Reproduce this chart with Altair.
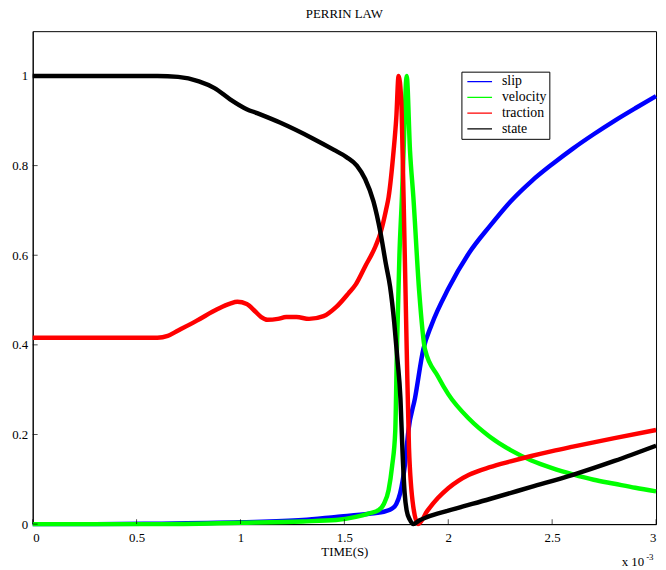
import altair as alt
import pandas as pd

# ---------------- data (time in units of 1e-3 s) ----------------
series_names = ["slip", "velocity", "traction", "state"]
series_colors = ["#0000ff", "#00ff00", "#ff0000", "#000000"]

slip_t = [0, 0.3, 0.6, 1.0, 1.3, 1.46, 1.62, 1.70, 1.728, 1.75, 1.768, 1.792, 1.808, 1.84, 1.88,
          1.92, 2.0, 2.1, 2.2, 2.3, 2.4, 2.5, 2.6, 2.7, 2.8, 2.9, 3.0]
slip_v = [0, 0, 0.001, 0.004, 0.009, 0.016, 0.023, 0.029, 0.034, 0.045, 0.068, 0.134, 0.208, 0.281, 0.39,
          0.445, 0.525, 0.605, 0.665, 0.72, 0.765, 0.803, 0.838, 0.87, 0.90, 0.928, 0.955]

vel_t = [0, 0.3, 0.6, 1.0, 1.3, 1.46, 1.555, 1.62, 1.665, 1.69, 1.713, 1.73, 1.745, 1.753, 1.765, 1.777,
         1.785, 1.80, 1.816, 1.832, 1.86, 1.888, 1.95, 2.0, 2.1, 2.2, 2.3, 2.4, 2.5, 2.6, 2.7, 2.8,
         2.9, 3.0]
vel_v = [0, 0, 0, 0.003, 0.006, 0.009, 0.016, 0.024, 0.031, 0.045, 0.076, 0.13, 0.208, 0.39, 0.6, 0.73,
         0.833, 1.0, 0.833, 0.73, 0.52, 0.39, 0.33, 0.29, 0.235, 0.195, 0.165, 0.142, 0.125, 0.111,
         0.099, 0.09, 0.081, 0.073]

trac_t = [0, 0.3, 0.6, 0.65, 0.7, 0.79, 0.89, 0.95, 0.985, 1.03, 1.07, 1.10, 1.13, 1.18, 1.22, 1.27,
          1.33, 1.40, 1.46, 1.52, 1.555, 1.60, 1.65, 1.674, 1.70, 1.713, 1.737, 1.75, 1.761, 1.774,
          1.78, 1.785, 1.80, 1.811, 1.832, 1.855, 1.9, 1.95, 2.0, 2.05, 2.1, 2.2, 2.3, 2.4, 2.5,
          2.6, 2.8, 3.0]
trac_v = [0.416, 0.416, 0.416, 0.42, 0.432, 0.454, 0.48, 0.492, 0.496, 0.491, 0.475, 0.462, 0.456,
          0.458, 0.462, 0.462, 0.458, 0.464, 0.484, 0.515, 0.535, 0.575, 0.62, 0.65, 0.70, 0.73,
          0.833, 0.907, 1.0, 0.944, 0.833, 0.73, 0.392, 0.171, 0.038, 0.0, 0.03, 0.058, 0.08, 0.097,
          0.11, 0.127, 0.14, 0.152, 0.163, 0.173, 0.192, 0.21]

state_t = [0, 0.3, 0.6, 0.7, 0.8, 0.875, 0.95, 1.03, 1.08, 1.19, 1.35, 1.45, 1.51, 1.56, 1.60, 1.64,
           1.674, 1.70, 1.72, 1.74, 1.755, 1.77, 1.78, 1.79, 1.80, 1.815, 1.832, 1.86, 1.9, 2.0, 2.2,
           2.4, 2.6, 2.8, 3.0]
state_v = [1.0, 1.0, 1.0, 0.998, 0.988, 0.973, 0.948, 0.926, 0.917, 0.896, 0.86, 0.835, 0.819, 0.80,
           0.77, 0.72, 0.65, 0.58, 0.53, 0.45, 0.37, 0.28, 0.16, 0.07, 0.03, 0.01, 0.0, 0.008, 0.016,
           0.03, 0.056, 0.083, 0.11, 0.141, 0.175]

x_ticks = [0, 0.5, 1, 1.5, 2, 2.5, 3]
y_ticks = [0, 0.2, 0.4, 0.6, 0.8, 1]
chart_title = "PERRIN LAW"
x_title = "TIME(S)"
multiplier_base = "x 10"
multiplier_exp = "-3"

FONT = "Liberation Serif"

lines_df = pd.concat([
    pd.DataFrame({"t": slip_t, "value": slip_v, "series": "slip"}),
    pd.DataFrame({"t": vel_t, "value": vel_v, "series": "velocity"}),
    pd.DataFrame({"t": trac_t, "value": trac_v, "series": "traction"}),
    pd.DataFrame({"t": state_t, "value": state_v, "series": "state"}),
], ignore_index=True)

xscale = alt.Scale(domain=[0, 3], nice=False, zero=False)
yscale = alt.Scale(domain=[0, 1.1], nice=False, zero=False)
cscale = alt.Scale(domain=series_names, range=series_colors)

legend = alt.Legend(
    title=None, orient="none", legendX=434, legendY=41,
    symbolType="stroke", symbolSize=625, symbolStrokeWidth=1.2, symbolOffset=3,
    clipHeight=16, rowPadding=0, padding=2, labelOffset=9,
    labelFont=FONT, labelFontSize=14, labelColor="black",
    strokeColor="black", fillColor="white", cornerRadius=0,
)

main_x = alt.Axis(values=x_ticks, format="~g", ticks=False, tickSize=0, labelPadding=8,
                  title=x_title, titlePadding=1, grid=False)
main_y = alt.Axis(values=y_ticks, format="~g", ticks=False, tickSize=0, labelPadding=5,
                  title=None, grid=False)

lines = alt.Chart(lines_df).mark_line(strokeWidth=4.5, interpolate="monotone").encode(
    x=alt.X("t:Q", scale=xscale, axis=main_x),
    y=alt.Y("value:Q", scale=yscale, axis=main_y),
    color=alt.Color("series:N", scale=cscale, legend=legend, sort=series_names),
)

# inward tick marks at the axis tick values
xt_df = pd.DataFrame({"t": x_ticks})
yt_df = pd.DataFrame({"value": y_ticks})
x_tick_marks = alt.Chart(xt_df).mark_tick(
    orient="vertical", color="black", thickness=1, size=5, yOffset=-2.5
).encode(x=alt.X("t:Q", scale=xscale, axis=main_x), y=alt.YDatum(0.0, axis=main_y))
y_tick_marks = alt.Chart(yt_df).mark_tick(
    orient="horizontal", color="black", thickness=1, size=5, xOffset=2.5
).encode(y=alt.Y("value:Q", scale=yscale, axis=main_y), x=alt.XDatum(0.0, axis=main_x))

ann = pd.DataFrame({"base": [multiplier_base], "exp": [multiplier_exp]})
ann_base = alt.Chart(ann).mark_text(
    align="right", baseline="middle", font=FONT, fontSize=13, color="black", dx=-12, dy=38
).encode(x=alt.XDatum(3.0, axis=main_x), y=alt.YDatum(0.0, axis=main_y), text="base:N")
ann_exp = alt.Chart(ann).mark_text(
    align="left", baseline="middle", font=FONT, fontSize=9, color="black", dx=-10, dy=33
).encode(x=alt.XDatum(3.0, axis=main_x), y=alt.YDatum(0.0, axis=main_y), text="exp:N")

chart = alt.layer(
    lines, x_tick_marks, y_tick_marks, ann_base, ann_exp,
).properties(
    width=631, height=499,
    title=alt.Title(chart_title, font=FONT, fontSize=13, fontWeight="normal", color="black",
                    anchor="middle", offset=10),
    autosize="none",
    padding={"left": 25, "top": 20, "right": 2, "bottom": 42},
).configure_axis(
    labelFont=FONT, labelFontSize=13, labelColor="black",
    titleFont=FONT, titleFontSize=13, titleFontWeight="normal", titleColor="black",
    domainColor="black", domainWidth=1, tickColor="black", tickWidth=1,
).configure_view(stroke="black", strokeWidth=1)

chart.save("out.html", embed_options={"renderer": "svg", "actions": False})
